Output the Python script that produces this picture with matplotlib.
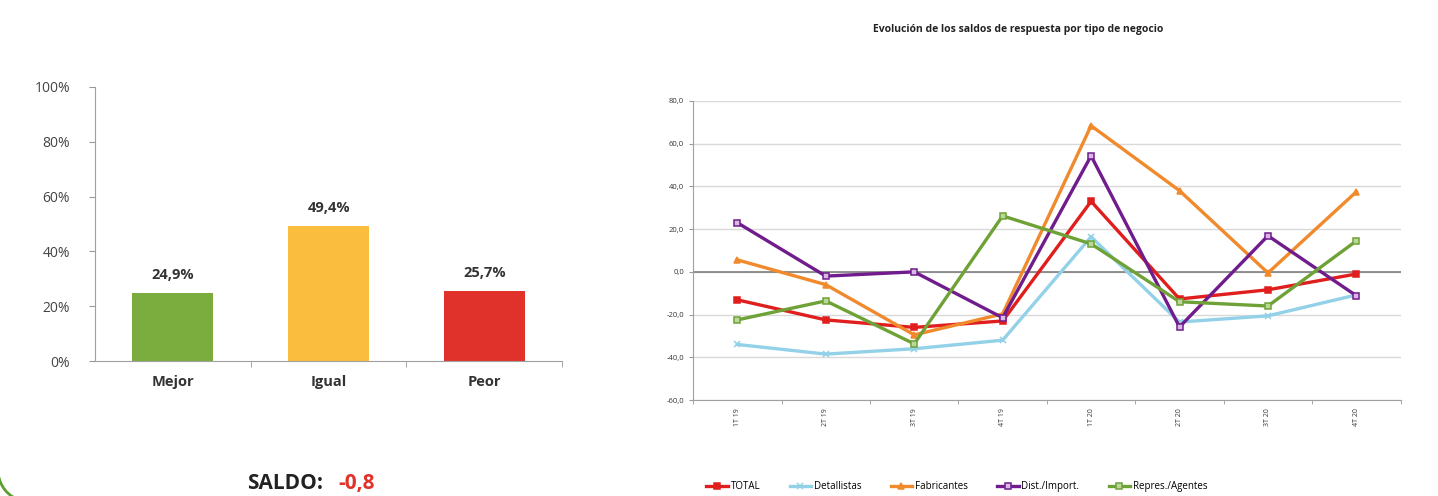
import matplotlib.pyplot as plt
from matplotlib.patches import Arc

plt.rcParams['font.family'] = ['Open Sans', 'DejaVu Sans']

# ── Data ──────────────────────────────────────────────────────────────────────

bar_labels = ["Mejor", "Igual", "Peor"]
bar_values = [24.9, 49.4, 25.7]
bar_colors = ["#7aac3e", "#fbbd3e", "#e0322a"]

quarters = ["1T 19", "2T 19", "3T 19", "4T 19", "1T 20", "2T 20", "3T 20", "4T 20"]

series_names = ["TOTAL", "Detallistas", "Fabricantes", "Dist./Import.", "Repres./Agentes"]
total        = [-13.1, -22.5, -26.0, -23.0, 33.0, -12.7, -8.4, -1.0]
detallistas  = [-34.0, -38.5, -36.0, -32.0, 16.4, -23.5, -20.6, -10.8]
fabricantes  = [5.6, -6.0, -29.5, -19.7, 68.4, 38.0, -0.5, 37.5]
dist_import  = [23.0, -2.0, 0.0, -21.5, 54.3, -25.8, 16.9, -11.2]
repres       = [-22.5, -13.6, -33.7, 26.2, 13.1, -14.0, -16.0, 14.5]

series_colors  = ["#e01e1e", "#92d1e8", "#f08a2c", "#701c8c", "#6fa236"]
series_markers = ["s", "x", "^", "s", "s"]
series_fill    = ["#e01e1e", "#92d1e8", "#f08a2c", "#d9b8e6", "#b8d99a"]

saldo = "-0,8"

# ── Figure ────────────────────────────────────────────────────────────────────

fig = plt.figure(figsize=(14.38, 4.96), dpi=100)

# left bar chart
ax1 = fig.add_axes([0.066, 0.272, 0.325, 0.553])
x = range(len(bar_labels))
bars = ax1.bar(x, bar_values, width=0.52, color=bar_colors)
for b, v in zip(bars, bar_values):
    ax1.text(b.get_x() + b.get_width() / 2, v + 4, f"{v:.1f}%".replace(".", ","),
             ha="center", va="bottom", fontsize=10.5, fontweight="bold", color="#333333")
ax1.set_ylim(0, 100)
ax1.set_xlim(-0.5, 2.5)
ax1.set_yticks(range(0, 101, 20))
ax1.set_yticklabels([f"{t}%" for t in range(0, 101, 20)], fontsize=10, color="#444444")
ax1.set_xticks(x)
ax1.set_xticklabels(bar_labels, fontsize=10.5, fontweight="bold", color="#333333")
ax1.set_xticks([0.5, 1.5, 2.5], minor=True)
ax1.tick_params(axis="x", which="major", length=0, pad=10)
ax1.tick_params(axis="x", which="minor", length=4, color="#999999")
ax1.tick_params(axis="y", length=4, color="#999999", pad=14)
for s in ["top", "right"]:
    ax1.spines[s].set_visible(False)
for s in ["left", "bottom"]:
    ax1.spines[s].set_color("#a0a0a0")

fig.text(0.172, 0.026, "SALDO:", fontsize=15, fontweight="bold", color="#222222",
         ha="left", va="center")
fig.text(0.235, 0.026, saldo, fontsize=15, fontweight="bold", color="#e0322a",
         ha="left", va="center")

# right line chart
ax2 = fig.add_axes([0.482, 0.1935, 0.492, 0.603])
all_series = [total, detallistas, fabricantes, dist_import, repres]
for name, vals, c, m, fc in zip(series_names, all_series, series_colors, series_markers, series_fill):
    ax2.plot(range(len(quarters)), vals, color=c, lw=2.4, marker=m, markersize=5,
             markerfacecolor=fc, markeredgecolor=c, markeredgewidth=1.1, label=name)
ax2.set_ylim(-60, 80)
ax2.set_xlim(-0.5, len(quarters) - 0.5)
ax2.set_yticks(range(-60, 81, 20))
ax2.set_yticklabels([f"{t:.1f}".replace(".", ",") for t in range(-60, 81, 20)],
                    fontsize=5.5, color="#333333")
ax2.yaxis.grid(True, color="#d9d9d9", lw=1)
ax2.set_axisbelow(True)
ax2.axhline(0, color="#808080", lw=1.2, zorder=1)
ax2.set_xticks(range(len(quarters)))
ax2.set_xticklabels(quarters, rotation=90, fontsize=5, color="#333333")
ax2.set_xticks([i + 0.5 for i in range(-1, len(quarters))], minor=True)
ax2.tick_params(axis="x", which="major", length=0, pad=6)
ax2.tick_params(axis="x", which="minor", length=3, color="#999999")
ax2.tick_params(axis="y", length=3, color="#999999")
for s in ["top", "right"]:
    ax2.spines[s].set_visible(False)
for s in ["left", "bottom"]:
    ax2.spines[s].set_color("#a0a0a0")

fig.text(0.708, 0.94, "Evolución de los saldos de respuesta por tipo de negocio",
         fontsize=7.5, fontweight="bold", color="#222222", ha="center", va="center")

ax2.legend(loc="center", bbox_to_anchor=(0.373, -0.29), ncol=5, frameon=False,
           fontsize=7, handlelength=2.2, handletextpad=0.3, columnspacing=3,
           markerscale=0.8)

# decorative green corner
fig.add_artist(Arc((30 / 1438, 26 / 496), 64 / 1438, 64 / 496, theta1=180, theta2=265,
                   transform=fig.transFigure, color="#5aa02c", lw=2))

plt.savefig("out.png", dpi=100)
